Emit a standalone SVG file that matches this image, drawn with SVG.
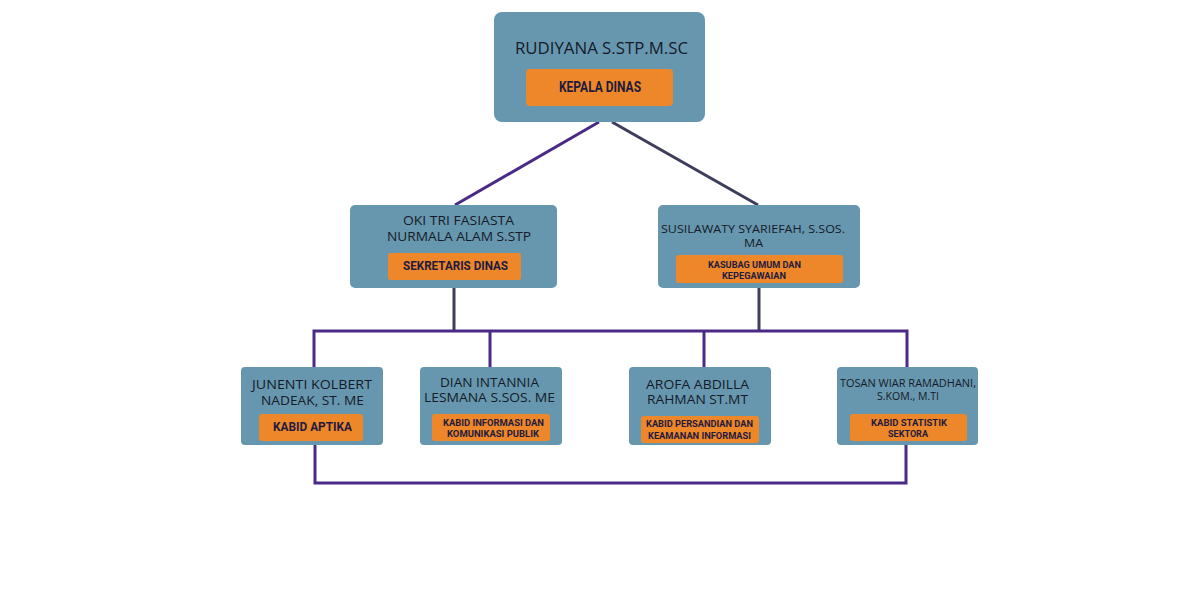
<svg xmlns="http://www.w3.org/2000/svg" width="1200" height="600" viewBox="0 0 1200 600">
<style>
.box{fill:#6797ae}
.tag{fill:#ee8729}
.nm{font-family:"Open Sans","Noto Sans",sans-serif;fill:#161a28;text-anchor:middle}
.tg{font-family:Roboto,"Liberation Sans",sans-serif;font-weight:bold;fill:#1e1b3e;text-anchor:middle}
.pl{stroke:#4b2a87;stroke-width:3;fill:none}
.dk{stroke:#3d3d5c;stroke-width:3;fill:none}
</style>
<rect width="1200" height="600" fill="#ffffff"/>
<g id="connectors">
<line class="pl" x1="599" y1="122" x2="455" y2="205"/>
<line class="dk" x1="612" y1="122" x2="758" y2="205"/>
<line class="dk" x1="454" y1="288" x2="454" y2="331"/>
<line class="dk" x1="759" y1="288" x2="759" y2="331"/>
<polyline class="pl" points="314,367 314,331 907,331 907,367"/>
<line class="pl" x1="490" y1="331" x2="490" y2="367"/>
<line class="pl" x1="704" y1="331" x2="704" y2="367"/>
<polyline class="pl" points="315,445 315,483 906,483 906,445"/>
</g>
<g id="kepala">
<rect class="box" x="494" y="12" width="211" height="110" rx="8"/>
<text class="nm" x="601.5" y="54" font-size="16" textLength="173" lengthAdjust="spacingAndGlyphs">RUDIYANA S.STP.M.SC</text>
<rect class="tag" x="526" y="69" width="147" height="37" rx="4"/>
<text class="tg" x="600" y="92" font-size="14" textLength="82" lengthAdjust="spacingAndGlyphs">KEPALA DINAS</text>
</g>
<g id="sekretaris">
<rect class="box" x="350" y="205" width="207" height="83" rx="5"/>
<text class="nm" x="458.5" y="225" font-size="13" textLength="111" lengthAdjust="spacingAndGlyphs">OKI TRI FASIASTA</text>
<text class="nm" x="459" y="241" font-size="13" textLength="144" lengthAdjust="spacingAndGlyphs">NURMALA ALAM S.STP</text>
<rect class="tag" x="388" y="253" width="133" height="27" rx="3"/>
<text class="tg" x="455.5" y="270" font-size="13.5" textLength="105" lengthAdjust="spacingAndGlyphs">SEKRETARIS DINAS</text>
</g>
<g id="kasubag">
<rect class="box" x="658" y="205" width="202" height="83" rx="5"/>
<text class="nm" x="753" y="233" font-size="11.5" textLength="184" lengthAdjust="spacingAndGlyphs">SUSILAWATY SYARIEFAH, S.SOS.</text>
<text class="nm" x="753.5" y="247" font-size="11.5" textLength="19" lengthAdjust="spacingAndGlyphs">MA</text>
<rect class="tag" x="676" y="255" width="167" height="28" rx="3"/>
<text class="tg" x="754.5" y="268" font-size="9.5" textLength="93" lengthAdjust="spacingAndGlyphs">KASUBAG UMUM DAN</text>
<text class="tg" x="754" y="278.5" font-size="9.5" textLength="64" lengthAdjust="spacingAndGlyphs">KEPEGAWAIAN</text>
</g>
<g id="aptika">
<rect class="box" x="241" y="367" width="142" height="78" rx="4"/>
<text class="nm" x="312" y="389" font-size="12.5" textLength="120" lengthAdjust="spacingAndGlyphs">JUNENTI KOLBERT</text>
<text class="nm" x="312.5" y="405" font-size="12.5" textLength="103" lengthAdjust="spacingAndGlyphs">NADEAK, ST. ME</text>
<rect class="tag" x="259" y="414" width="104" height="27" rx="3"/>
<text class="tg" x="312.5" y="431" font-size="13.5" textLength="79" lengthAdjust="spacingAndGlyphs">KABID APTIKA</text>
</g>
<g id="informasi">
<rect class="box" x="420" y="367" width="142" height="78" rx="4"/>
<text class="nm" x="489.5" y="387" font-size="12.5" textLength="99" lengthAdjust="spacingAndGlyphs">DIAN INTANNIA</text>
<text class="nm" x="489.5" y="402" font-size="12.5" textLength="131" lengthAdjust="spacingAndGlyphs">LESMANA S.SOS. ME</text>
<rect class="tag" x="432" y="414" width="118" height="27" rx="3"/>
<text class="tg" x="493.5" y="426" font-size="9.5" textLength="101" lengthAdjust="spacingAndGlyphs">KABID INFORMASI DAN</text>
<text class="tg" x="493" y="436.5" font-size="9.5" textLength="92" lengthAdjust="spacingAndGlyphs">KOMUNIKASI PUBLIK</text>
</g>
<g id="persandian">
<rect class="box" x="629" y="367" width="142" height="78" rx="4"/>
<text class="nm" x="697.5" y="389" font-size="12.5" textLength="103" lengthAdjust="spacingAndGlyphs">AROFA ABDILLA</text>
<text class="nm" x="697.5" y="404" font-size="12.5" textLength="101" lengthAdjust="spacingAndGlyphs">RAHMAN ST.MT</text>
<rect class="tag" x="641" y="416" width="118" height="27" rx="3"/>
<text class="tg" x="699.5" y="427" font-size="9.5" textLength="107" lengthAdjust="spacingAndGlyphs">KABID PERSANDIAN DAN</text>
<text class="tg" x="699.5" y="439" font-size="9.5" textLength="103" lengthAdjust="spacingAndGlyphs">KEAMANAN INFORMASI</text>
</g>
<g id="statistik">
<rect class="box" x="837" y="367" width="141" height="78" rx="4"/>
<text class="nm" x="908" y="387" font-size="10.5" textLength="136" lengthAdjust="spacingAndGlyphs">TOSAN WIAR RAMADHANI,</text>
<text class="nm" x="908" y="400" font-size="10.5" textLength="62" lengthAdjust="spacingAndGlyphs">S.KOM., M.TI</text>
<rect class="tag" x="850" y="414" width="117" height="27" rx="3"/>
<text class="tg" x="909" y="426" font-size="9.5" textLength="76" lengthAdjust="spacingAndGlyphs">KABID STATISTIK</text>
<text class="tg" x="908" y="436.5" font-size="9.5" textLength="40" lengthAdjust="spacingAndGlyphs">SEKTORA</text>
</g>
</svg>
